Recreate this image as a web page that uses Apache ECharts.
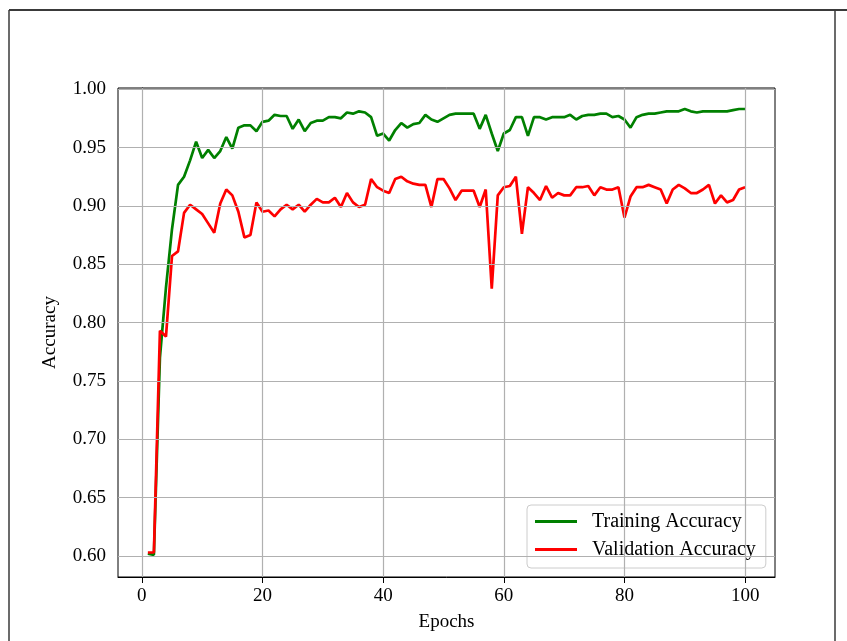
<!DOCTYPE html>
<html>
<head>
<meta charset="utf-8">
<script src="https://cdn.jsdelivr.net/npm/echarts@6/dist/echarts.min.js"></script>
<style>
  html, body { margin: 0; padding: 0; background: #fff; }
  #chart { width: 847px; height: 641px; }
</style>
</head>
<body>
<div id="chart"></div>
<script>
// accuracy per epoch
const trainAcc = [
  0.602, 0.601, 0.770, 0.830, 0.880, 0.918, 0.925, 0.939, 0.955, 0.941,
  0.948, 0.941, 0.947, 0.959, 0.949, 0.967, 0.969, 0.969, 0.964, 0.972,
  0.973, 0.978, 0.977, 0.977, 0.966, 0.974, 0.964, 0.971, 0.973, 0.973,
  0.976, 0.976, 0.975, 0.980, 0.979, 0.981, 0.980, 0.976, 0.960, 0.962,
  0.956, 0.965, 0.971, 0.967, 0.970, 0.971, 0.978, 0.974, 0.972, 0.975,
  0.978, 0.979, 0.979, 0.979, 0.979, 0.966, 0.978, 0.962, 0.947, 0.962,
  0.965, 0.976, 0.976, 0.960, 0.976, 0.976, 0.974, 0.976, 0.976, 0.976,
  0.978, 0.974, 0.977, 0.978, 0.978, 0.979, 0.979, 0.976, 0.977, 0.974,
  0.967, 0.976, 0.978, 0.979, 0.979, 0.980, 0.981, 0.981, 0.981, 0.983,
  0.981, 0.980, 0.981, 0.981, 0.981, 0.981, 0.981, 0.982, 0.983, 0.983
];
const valAcc = [
  0.603, 0.603, 0.793, 0.788, 0.857, 0.861, 0.894, 0.901, 0.897, 0.893,
  0.885, 0.877, 0.902, 0.914, 0.909, 0.895, 0.873, 0.875, 0.903, 0.895,
  0.896, 0.891, 0.897, 0.901, 0.897, 0.901, 0.895, 0.901, 0.906, 0.903,
  0.903, 0.907, 0.899, 0.911, 0.903, 0.899, 0.901, 0.923, 0.916, 0.913,
  0.911, 0.923, 0.925, 0.921, 0.919, 0.918, 0.918, 0.899, 0.923, 0.923,
  0.915, 0.905, 0.913, 0.913, 0.913, 0.899, 0.914, 0.829, 0.909, 0.916,
  0.917, 0.925, 0.876, 0.916, 0.911, 0.905, 0.917, 0.907, 0.911, 0.909,
  0.909, 0.916, 0.916, 0.917, 0.909, 0.916, 0.914, 0.914, 0.916, 0.890,
  0.908, 0.916, 0.916, 0.918, 0.916, 0.914, 0.902, 0.914, 0.918, 0.915,
  0.911, 0.911, 0.914, 0.918, 0.902, 0.909, 0.903, 0.905, 0.914, 0.916
];
const xTicks = [0, 20, 40, 60, 80, 100];
const yTicks = [0.60, 0.65, 0.70, 0.75, 0.80, 0.85, 0.90, 0.95, 1.00];

const epochs = trainAcc.map((v, i) => i + 1);
const trainData = epochs.map((e, i) => [e, trainAcc[i]]);
const valData = epochs.map((e, i) => [e, valAcc[i]]);

const FONT = "'Liberation Serif', 'DejaVu Serif', serif";
const gridLines = xTicks.map((v) => ({ xAxis: v })).concat(yTicks.map((v) => ({ yAxis: v })));

const myChart = echarts.init(document.getElementById('chart'), null, { renderer: 'canvas' });

const option = {
  animation: false,
  backgroundColor: '#fff',
  textStyle: { fontFamily: FONT },
  graphic: [
    { type: 'line', shape: { x1: 9, y1: 10, x2: 847, y2: 10 }, style: { stroke: '#3a3a3a', lineWidth: 2 } },
    { type: 'line', shape: { x1: 9, y1: 10, x2: 9, y2: 641 }, style: { stroke: '#3a3a3a', lineWidth: 1.5 } },
    { type: 'line', shape: { x1: 835, y1: 10, x2: 835, y2: 641 }, style: { stroke: '#3a3a3a', lineWidth: 1.5 } }
  ],
  grid: {
    left: 118,
    top: 88,
    right: 72,
    bottom: 64,
    show: true,
    borderColor: '#000',
    borderWidth: 1,
    containLabel: false
  },
  legend: {
    orient: 'vertical',
    left: 527,
    top: 505,
    padding: [6, 10, 8, 8],
    itemGap: 7,
    itemWidth: 42,
    itemHeight: 3,
    icon: 'rect',
    backgroundColor: 'rgba(255,255,255,0.8)',
    borderColor: '#cccccc',
    borderWidth: 1,
    borderRadius: 4,
    textStyle: { fontFamily: FONT, fontSize: 20, color: '#000', lineHeight: 21, padding: [0, 0, 0, 10] },
    data: ['Training Accuracy', 'Validation Accuracy']
  },
  xAxis: {
    type: 'value',
    min: -3.95,
    max: 104.95,
    name: 'Epochs',
    nameLocation: 'middle',
    nameGap: 36,
    nameTextStyle: { fontFamily: FONT, fontSize: 19, color: '#000' },
    axisLine: { show: true, lineStyle: { color: '#000', width: 1 } },
    axisTick: { show: true, length: 6, customValues: xTicks, lineStyle: { color: '#000' } },
    axisLabel: { customValues: xTicks, margin: 10, fontFamily: FONT, fontSize: 19, color: '#000' },
    splitLine: { show: false }
  },
  yAxis: {
    type: 'value',
    min: 0.582,
    max: 1.001,
    name: 'Accuracy',
    nameLocation: 'middle',
    nameGap: 58,
    nameTextStyle: { fontFamily: FONT, fontSize: 19, color: '#000' },
    axisLine: { show: true, lineStyle: { color: '#000', width: 1 } },
    axisTick: { show: true, length: 6, customValues: yTicks, lineStyle: { color: '#000' } },
    axisLabel: {
      customValues: yTicks,
      margin: 12,
      fontFamily: FONT,
      fontSize: 19,
      color: '#000',
      formatter: (v) => v.toFixed(2)
    },
    splitLine: { show: false }
  },
  series: [
    {
      // grid lines only
      name: 'grid',
      type: 'line',
      data: [],
      z: 1,
      silent: true,
      markLine: {
        silent: true,
        symbol: 'none',
        label: { show: false },
        lineStyle: { color: '#b0b0b0', type: 'solid', width: 1.2 },
        data: gridLines
      }
    },
    {
      name: 'Training Accuracy',
      type: 'line',
      data: trainData,
      showSymbol: false,
      symbol: 'none',
      z: 3,
      color: '#008000',
      lineStyle: { color: '#008000', width: 2.7 }
    },
    {
      name: 'Validation Accuracy',
      type: 'line',
      data: valData,
      showSymbol: false,
      symbol: 'none',
      z: 4,
      color: '#ff0000',
      lineStyle: { color: '#ff0000', width: 2.7 }
    }
  ]
};

myChart.setOption(option);
window.addEventListener('resize', () => myChart.resize());
</script>
</body>
</html>
